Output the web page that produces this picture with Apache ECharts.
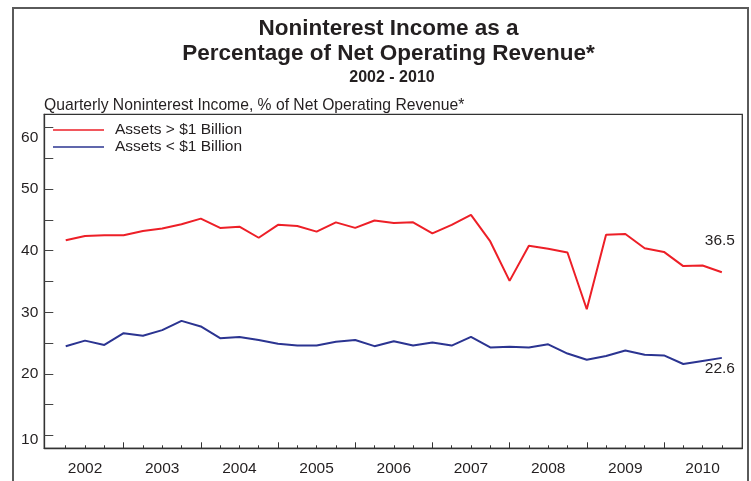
<!DOCTYPE html>
<html>
<head>
<meta charset="utf-8">
<script src="https://cdn.jsdelivr.net/npm/echarts@6/dist/echarts.min.js"></script>
<style>
  html, body { margin: 0; padding: 0; background: #fff; }
  #chart { width: 751px; height: 481px; }
</style>
</head>
<body>
<div id="chart"></div>
<script>
// Quarterly series, 2002 Q1 through 2010 Q3 (plotted at quarter ends)
const quarters = [
  '2002Q1','2002Q2','2002Q3','2002Q4','2003Q1','2003Q2','2003Q3','2003Q4',
  '2004Q1','2004Q2','2004Q3','2004Q4','2005Q1','2005Q2','2005Q3','2005Q4',
  '2006Q1','2006Q2','2006Q3','2006Q4','2007Q1','2007Q2','2007Q3','2007Q4',
  '2008Q1','2008Q2','2008Q3','2008Q4','2009Q1','2009Q2','2009Q3','2009Q4',
  '2010Q1','2010Q2','2010Q3'
];
const largeBanks = [
  41.7, 42.4, 42.5, 42.5, 43.2, 43.6, 44.3, 45.2,
  43.7, 43.9, 42.1, 44.2, 44.0, 43.1, 44.6, 43.7,
  44.9, 44.5, 44.6, 42.8, 44.2, 45.8, 41.5, 35.1,
  40.8, 40.3, 39.7, 30.5, 42.6, 42.7, 40.4, 39.8,
  37.5, 37.6, 36.5
];
const smallBanks = [
  24.5, 25.4, 24.7, 26.6, 26.2, 27.1, 28.6, 27.7,
  25.8, 26.0, 25.5, 24.9, 24.6, 24.6, 25.2, 25.5,
  24.5, 25.3, 24.6, 25.1, 24.6, 26.0, 24.3, 24.4,
  24.3, 24.8, 23.3, 22.3, 22.9, 23.8, 23.1, 23.0,
  21.6, 22.1, 22.6
];
const yearLabels = ['2002','2003','2004','2005','2006','2007','2008','2009','2010'];
const yTickLabels = [10, 20, 30, 40, 50, 60];
const seriesNames = ['Assets > $1 Billion', 'Assets < $1 Billion'];

const RED = '#ed1f27';
const BLUE = '#2b3491';
const INK = '#231f20';
const FONT = '"Liberation Sans", Arial, Helvetica, sans-serif';
const FS = 15.5;

const lastIdx = quarters.length - 1;

// every point carries an invisible symbol; only the final quarter gets a value label
function withEndLabel(arr, offset) {
  const pts = arr.map((v, i) => ({ value: [i, v] }));
  pts[lastIdx].label = {
    show: true,
    position: 'inside',
    offset: offset,
    formatter: p => p.value[1].toFixed(1),
    color: INK,
    fontSize: FS,
    fontFamily: FONT
  };
  return pts;
}

const yearCenters = yearLabels.map((_, k) => 1 + 4 * k);
const yearBounds = yearLabels.slice(0, -1).map((_, k) => 3 + 4 * k);
const quarterTicks = quarters.map((_, i) => i);

const X_MIN = -1.11, X_MAX = 35.06;

const chart = echarts.init(document.getElementById('chart'), null, { renderer: 'canvas' });
chart.setOption({
  animation: false,
  backgroundColor: '#fff',
  textStyle: { fontFamily: FONT },
  graphic: [
    {
      type: 'rect',
      shape: { x: 13, y: 8, width: 735, height: 490 },
      style: { fill: 'none', stroke: '#5a5a5a', lineWidth: 2 },
      silent: true, z: -1
    },
    {
      type: 'text', x: 388.5, y: 29,
      style: { text: 'Noninterest Income as a', font: 'bold 22.5px ' + FONT, fill: INK, align: 'center', verticalAlign: 'middle' }
    },
    {
      type: 'text', x: 388.5, y: 54,
      style: { text: 'Percentage of Net Operating Revenue*', font: 'bold 22.5px ' + FONT, fill: INK, align: 'center', verticalAlign: 'middle' }
    },
    {
      type: 'text', x: 392, y: 78,
      style: { text: '2002 - 2010', font: 'bold 16px ' + FONT, fill: INK, align: 'center', verticalAlign: 'middle' }
    },
    {
      type: 'text', x: 44, y: 106,
      style: { text: 'Quarterly Noninterest Income, % of Net Operating Revenue*', font: '15.7px ' + FONT, fill: INK, align: 'left', verticalAlign: 'middle' }
    }
  ],
  legend: {
    left: 53, top: 122, orient: 'vertical', itemGap: 1, padding: 0,
    icon: 'rect', itemWidth: 51, itemHeight: 1.3,
    textStyle: { fontSize: FS, color: INK, fontFamily: FONT, padding: [0, 0, 0, 6] },
    data: seriesNames
  },
  grid: {
    left: 44.3, top: 114.3, right: 8.7, bottom: 32.7,
    show: true, borderColor: '#333', borderWidth: 1.3, backgroundColor: 'transparent'
  },
  xAxis: [
    {
      type: 'value', min: X_MIN, max: X_MAX,
      splitLine: { show: false },
      axisLine: { show: true, onZero: false, lineStyle: { color: '#333', width: 1.3 } },
      axisTick: { show: true, inside: true, length: 3, customValues: quarterTicks, lineStyle: { color: '#333' } },
      axisLabel: {
        show: true, margin: 12, color: INK, fontSize: FS, fontFamily: FONT,
        customValues: yearCenters,
        formatter: v => yearLabels[Math.round((v - 1) / 4)]
      }
    },
    {
      type: 'value', min: X_MIN, max: X_MAX, position: 'bottom',
      splitLine: { show: false },
      axisLine: { show: false, onZero: false },
      axisTick: { show: true, inside: true, length: 6, customValues: yearBounds, lineStyle: { color: '#333' } },
      axisLabel: { show: false }
    }
  ],
  yAxis: {
    type: 'value', min: 7.92, max: 62.14,
    splitLine: { show: false },
    axisLine: { show: true, onZero: false, lineStyle: { color: '#333', width: 1.3 } },
    axisTick: { show: true, inside: true, length: 9, customValues: [10, 15, 20, 25, 30, 35, 40, 45, 50, 55, 60], lineStyle: { color: '#444' } },
    axisLabel: {
      show: true, margin: 6, color: INK, fontSize: FS, fontFamily: FONT,
      customValues: yTickLabels,
      formatter: v => (v === 60 ? '{lo|' + v + '}' : v === 10 ? '{lo10|' + v + '}' : String(v)),
      rich: {
        lo: { padding: [21, 0, 0, 0], fontSize: FS, color: INK, fontFamily: FONT },
        lo10: { padding: [8, 0, 0, 0], fontSize: FS, color: INK, fontFamily: FONT }
      }
    }
  },
  series: [
    {
      name: seriesNames[0], type: 'line', xAxisIndex: 0,
      data: withEndLabel(largeBanks, [-2, -31.6]),
      showSymbol: true, symbol: 'circle', symbolSize: 0, showAllSymbol: true,
      lineStyle: { color: RED, width: 2 }, itemStyle: { color: RED },
      emphasis: { disabled: true }
    },
    {
      name: seriesNames[1], type: 'line', xAxisIndex: 0,
      data: withEndLabel(smallBanks, [-2, 10.6]),
      showSymbol: true, symbol: 'circle', symbolSize: 0, showAllSymbol: true,
      lineStyle: { color: BLUE, width: 2 }, itemStyle: { color: BLUE },
      emphasis: { disabled: true }
    }
  ]
});
</script>
</body>
</html>
